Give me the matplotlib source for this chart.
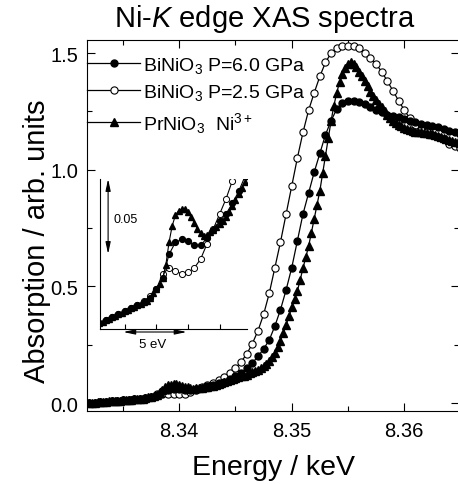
import numpy as np
import matplotlib
matplotlib.use("Agg")
import matplotlib.pyplot as plt
from matplotlib.ticker import MultipleLocator, FormatStrFormatter

plt.rcParams['font.family'] = ['Liberation Sans', 'DejaVu Sans']
plt.rcParams['mathtext.fontset'] = 'custom'
plt.rcParams['mathtext.rm'] = 'Liberation Sans'
plt.rcParams['mathtext.it'] = 'Liberation Sans:italic'
plt.rcParams['mathtext.bf'] = 'Liberation Sans:bold'

# ---------------- data (energy in keV, absorption in arb. units) ----------------
# BiNiO3 P=6.0 GPa (filled circles), 0.5 eV grid from 8.3320 keV
E_bi60 = np.round(8.3320 + 0.0005 * np.arange(67), 5)
A_bi60 = [0.000, 0.002, 0.004, 0.006, 0.008, 0.010, 0.012, 0.014, 0.016, 0.018,
          0.021, 0.027, 0.034, 0.050, 0.058, 0.060, 0.059, 0.056, 0.056, 0.061,
          0.066, 0.072, 0.077, 0.084, 0.092, 0.102, 0.114, 0.130, 0.150, 0.172,
          0.200, 0.232, 0.270, 0.330, 0.400, 0.485, 0.580, 0.695, 0.810, 0.900,
          0.990, 1.070, 1.150, 1.210, 1.260, 1.285, 1.295, 1.295, 1.290, 1.282,
          1.270, 1.258, 1.246, 1.236, 1.230, 1.224, 1.217, 1.210, 1.204, 1.198,
          1.192, 1.187, 1.182, 1.175, 1.167, 1.160, 1.155]

# BiNiO3 P=2.5 GPa (open circles), 0.5 eV grid from 8.3320 keV
E_bi25 = np.round(8.3320 + 0.0005 * np.arange(67), 5)
A_bi25 = [0.000, 0.002, 0.004, 0.006, 0.008, 0.010, 0.012, 0.014, 0.016, 0.019,
          0.022, 0.027, 0.037, 0.041, 0.039, 0.037, 0.038, 0.041, 0.047, 0.057,
          0.067, 0.077, 0.087, 0.099, 0.113, 0.130, 0.150, 0.177, 0.210, 0.255,
          0.310, 0.380, 0.470, 0.580, 0.690, 0.810, 0.930, 1.050, 1.160, 1.255,
          1.330, 1.400, 1.460, 1.500, 1.520, 1.530, 1.532, 1.530, 1.520, 1.502,
          1.480, 1.453, 1.420, 1.380, 1.338, 1.296, 1.256, 1.220, 1.190, 1.172,
          1.160, 1.150, 1.140, 1.130, 1.112, 1.100, 1.092]

# PrNiO3 Ni3+ (triangles), 0.25 eV grid from 8.3320 keV
E_pr = np.round(8.3320 + 0.00025 * np.arange(133), 6)
A_pr = [0.000, 0.001, 0.002, 0.003, 0.004, 0.005, 0.006, 0.007, 0.008, 0.009,
        0.010, 0.011, 0.012, 0.013, 0.014, 0.015, 0.016, 0.017, 0.018, 0.019,
        0.021, 0.024, 0.027, 0.030, 0.034, 0.043, 0.058, 0.069, 0.076, 0.079,
        0.080, 0.080, 0.078, 0.075, 0.071, 0.067, 0.064, 0.062, 0.063, 0.065,
        0.066, 0.068, 0.070, 0.072, 0.075, 0.078, 0.082, 0.086, 0.090, 0.094,
        0.098, 0.102, 0.106, 0.110, 0.114, 0.118, 0.122, 0.127, 0.132, 0.137,
        0.143, 0.150, 0.158, 0.168, 0.180, 0.196, 0.215, 0.240, 0.268, 0.300,
        0.335, 0.372, 0.410, 0.445, 0.480, 0.528, 0.578, 0.625, 0.672, 0.730,
        0.790, 0.850, 0.910, 0.985, 1.060, 1.135, 1.210, 1.275, 1.330, 1.375,
        1.410, 1.437, 1.453, 1.460, 1.455, 1.440, 1.420, 1.400, 1.380, 1.357,
        1.335, 1.315, 1.297, 1.282, 1.268, 1.252, 1.235, 1.222, 1.210, 1.201,
        1.193, 1.186, 1.180, 1.175, 1.170, 1.166, 1.163, 1.161, 1.160, 1.158,
        1.157, 1.155, 1.153, 1.150, 1.146, 1.142, 1.138, 1.133, 1.128, 1.124,
        1.120, 1.117, 1.115]

labels = ['BiNiO$_3$ P=6.0 GPa', 'BiNiO$_3$ P=2.5 GPa', 'PrNiO$_3$  Ni$^{3+}$']

# ---------------- figure ----------------
W, H = 458, 485
fig = plt.figure(figsize=(W / 100, H / 100), dpi=100)
ax = fig.add_axes([87 / W, 73 / H, 372 / W, 371 / H])

lw = 0.9
l1, = ax.plot(E_bi60, A_bi60, '-o', color='black', mfc='black', mec='black',
              ms=5.0, lw=lw, zorder=3)
l2, = ax.plot(E_bi25, A_bi25, '-o', color='black', mfc='white', mec='black',
              ms=5.2, mew=0.8, lw=lw, zorder=2)
l3, = ax.plot(E_pr, A_pr, '-^', color='black', mfc='black', mec='black',
              ms=5.2, lw=lw, zorder=4)

ax.set_xlim(8.3318, 8.36487)
ax.set_ylim(-0.034, 1.556)
ax.xaxis.set_major_locator(MultipleLocator(0.01))
ax.xaxis.set_minor_locator(MultipleLocator(0.005))
ax.yaxis.set_major_locator(MultipleLocator(0.5))
ax.yaxis.set_minor_locator(MultipleLocator(0.25))
ax.xaxis.set_major_formatter(FormatStrFormatter('%.2f'))
ax.yaxis.set_major_formatter(FormatStrFormatter('%.1f'))
ax.tick_params(which='both', direction='in', top=True, right=True, width=0.8)
ax.tick_params(which='major', length=6)
ax.tick_params(which='minor', length=3.5)
ax.tick_params(axis='x', which='major', labelsize=14.5, pad=7.5)
ax.tick_params(axis='y', which='major', labelsize=14.5, pad=6.5)
for s in ax.spines.values():
    s.set_linewidth(0.8)

ax.legend([l1, l2, l3], labels, loc='upper left', bbox_to_anchor=(0.0, 0.96),
          frameon=False, fontsize=14, handlelength=2.75, handletextpad=0.15,
          labelspacing=0.38, borderaxespad=0, borderpad=0)

fig.text(265 / W, 1 - 27 / H, 'Ni-$K$ edge XAS spectra', ha='center',
         va='baseline', fontsize=21)
fig.text(274 / W, 10 / H, 'Energy / keV', ha='center', va='baseline',
         fontsize=20.5)
fig.text(37 / W, 1 - 241 / H, 'Absorption / arb. units', ha='center',
         va='center', rotation=90, fontsize=21)

# ---------------- inset ----------------
ins = fig.add_axes([100 / W, (H - 330) / H, 147 / W, 150 / H])
ins.patch.set_alpha(0)
ins.plot(E_bi60, A_bi60, '-o', color='black', mfc='black', mec='black',
         ms=4.2, lw=0.8, zorder=3)
ins.plot(E_bi25, A_bi25, '-o', color='black', mfc='white', mec='black',
         ms=4.4, mew=0.7, lw=0.8, zorder=2)
ins.plot(E_pr, A_pr, '-^', color='black', mfc='black', mec='black',
         ms=4.4, lw=0.8, zorder=4)
ins.set_xlim(8.33305, 8.34466)
ins.set_ylim(0.0003, 0.1003)
ins.spines['top'].set_visible(False)
ins.spines['right'].set_visible(False)
for s in ins.spines.values():
    s.set_linewidth(0.8)
ins.set_xticks([8.335, 8.3375, 8.340, 8.3425])
ins.set_xticklabels([])
ins.set_yticks([])
ins.tick_params(axis='x', direction='in', length=3.5, width=0.8)

arrow_kw = dict(arrowstyle='<|-|>,head_length=0.7,head_width=0.15',
                color='black', lw=0.8, shrinkA=0, shrinkB=0)
ins.annotate('', xy=(8.33369, 0.1003), xytext=(8.33369, 0.0503),
             arrowprops=arrow_kw, annotation_clip=False)
ins.text(8.33408, 0.0737, '0.05', ha='left', va='center', fontsize=9)
ins.annotate('', xy=(8.33489, -0.0017), xytext=(8.33989, -0.0017),
             arrowprops=arrow_kw, annotation_clip=False)
ins.text(8.33724, -0.0095, '5 eV', ha='center', va='center', fontsize=9.5,
         clip_on=False)

fig.savefig('out.png', dpi=100)
